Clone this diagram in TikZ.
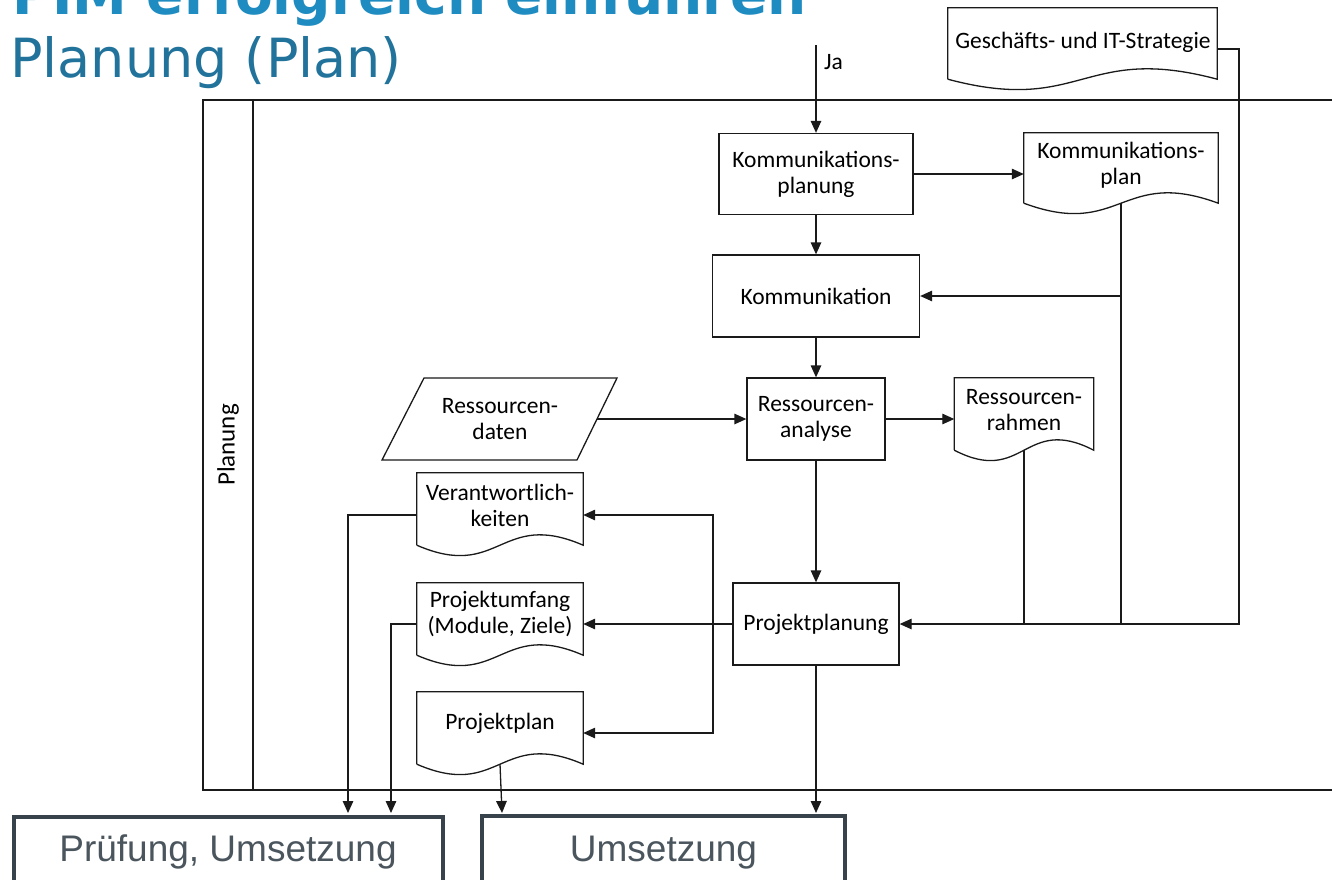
\documentclass[tikz,border=0pt]{standalone}
\usepackage{fontspec}
\setmainfont{Carlito}
\newfontfamily\titlefont{DejaVu Sans}
\newfontfamily\boxfont{Liberation Sans}
\usetikzlibrary{arrows.meta,calc}
\definecolor{titleblue}{HTML}{1E8CC0}
\definecolor{subblue}{HTML}{22739C}
\definecolor{boxgray}{HTML}{37424A}
\definecolor{boxtext}{HTML}{4A555D}
\definecolor{ln}{HTML}{1A1A1A}
\newcommand\docwave[1]{\draw[docline] (#1.south west) -- (#1.north west) -- (#1.north east) -- (#1.south east) .. controls ($(#1.south)+(0,-36)$) and ($(#1.south)+(0,36)$) .. (#1.south west);}
\begin{document}
\begin{tikzpicture}[x=1pt,y=-1pt,
  every node/.style={font=\fontsize{23.5}{26}\selectfont},
  proc/.style={draw=ln, line width=1.3pt, inner sep=0pt, align=center},
  docnode/.style={inner sep=0pt},
  docline/.style={draw=ln, line width=1.3pt},
  txt/.style={align=center, inner sep=0pt},
  conn/.style={draw=ln, line width=1.3pt},
  arr/.style={conn, -{Triangle[length=12pt,width=10.5pt]}},
  bigbox/.style={draw=boxgray, line width=4.5pt, inner sep=0pt, outer sep=0pt},
  bigtxt/.style={font=\boxfont\fontsize{37}{40}\selectfont, text=boxtext, inner sep=0pt},
]
\useasboundingbox (0,0) rectangle (1332,879);
\clip (0,0) rectangle (1332,879);
\fill[white] (0,0) rectangle (1332,879);

% titles
\node[anchor=base west, inner sep=0pt, text=titleblue, font=\titlefont\bfseries\fontsize{55}{60}\selectfont] (title) at (12,14) {PIM erfolgreich einführen};
\node[anchor=base west, inner sep=0pt, text=subblue, font=\titlefont\fontsize{54}{60}\selectfont] (subtitle) at (10,77) {Planung (Plan)};

% pool / lane
\draw[conn] (1332,100) -- (203,100) -- (203,790) -- (1332,790);
\draw[conn] (253,100) -- (253,790);
\node[txt, rotate=90, font=\fontsize{25}{28}\selectfont] (lane) at (228,445) {Planung};

% processes
\node[proc, minimum width=194pt, minimum height=81pt] (kpl) at (816,174) {Kommunikations-\\planung};
\node[proc, minimum width=207pt, minimum height=82pt] (kom) at (816,296) {Kommunikation};
\node[proc, minimum width=138pt, minimum height=82pt] (ran) at (816,419) {Ressourcen-\\analyse};
\node[proc, minimum width=166pt, minimum height=82pt] (ppl) at (816,624) {Projektplanung};

% data (parallelogram)
\draw[docline] (424,378) -- (617,378) -- (577,460) -- (382,460) -- cycle;
\node[txt] (rdat) at (500,419) {Ressourcen-\\daten};
\coordinate (rdatr) at (597,419);

% documents
\node[docnode, minimum width=269pt, minimum height=71pt] (gst) at (1082.5,43.5) {};
\node[docnode, minimum width=194pt, minimum height=70pt] (kpn) at (1121,168) {};
\node[docnode, minimum width=139pt, minimum height=72pt] (rrn) at (1024,414) {};
\node[docnode, minimum width=166pt, minimum height=72pt] (ver) at (500,509) {};
\node[docnode, minimum width=166pt, minimum height=72pt] (pum) at (500,619) {};
\node[docnode, minimum width=166pt, minimum height=72pt] (ppn) at (500,728) {};
\docwave{gst}
\docwave{kpn}
\docwave{rrn}
\docwave{ver}
\docwave{pum}
\docwave{ppn}
\node[txt] (gstt) at (1083,42) {Geschäfts- und IT-Strategie};
\node[txt] (kpnt) at (1121,165) {Kommunikations-\\plan};
\node[txt] (rrnt) at (1024,410) {Ressourcen-\\rahmen};
\node[txt] (vert) at (500,505) {Verantwortlich-\\keiten};
\node[txt] (pumt) at (500,614) {Projektumfang\\(Module, Ziele)};
\node[txt] (ppnt) at (500,723) {Projektplan};

% target boxes
\node[bigbox, minimum width=429pt, minimum height=120pt, anchor=north] (pru) at (228.5,817) {};
\node[bigtxt, anchor=base] (prut) at (228,861) {Prüfung, Umsetzung};
\node[bigbox, minimum width=363pt, minimum height=120pt, anchor=north] (ums) at (663.5,816) {};
\node[bigtxt, anchor=base] (umst) at (663.5,861) {Umsetzung};

% helper coordinates
\coordinate (ja) at (816,45);
\coordinate (rt) at (1239,624);
\coordinate (jn) at (713,624);
\coordinate (pt1) at (348,813);
\coordinate (pt2) at (391,813);
\coordinate (um1) at (502,813);
\coordinate (um2) at (816,813);

% connectors
\draw[arr] (ja) -- (kpl.north);
\node[txt, anchor=west] (jal) at (824,62) {Ja};
\draw[arr] (kpl.east) -- (kpl.east -| kpn.west);
\draw[arr] (kpl.south) -- (kpl.south |- kom.north);
\draw[arr] (kpn.south) |- (kom.east);
\draw[conn] (kpn.south) -- (kpn.south |- ppl.east);
\draw[arr] ([yshift=-5.5pt]gst.east) -| (rt) -- (ppl.east);
\draw[arr] (kom.south) -- (kom.south |- ran.north);
\draw[arr] (rdatr) -- (rdatr -| ran.west);
\draw[arr] (ran.east) -- (ran.east -| rrn.west);
\draw[conn] (rrn.south) -- (rrn.south |- ppl.east);
\draw[arr] (ran.south) -- (ran.south |- ppl.north);
\draw[arr] (ppl.west) -- (ppl.west -| pum.east);
\draw[arr] (jn) |- ([yshift=-6pt]ver.east);
\draw[arr] (jn) |- ([yshift=-5pt]ppn.east);
\draw[arr] ([yshift=-6pt]ver.west) -| (pt1);
\draw[arr] ([yshift=-5pt]pum.west) -| (pt2);
\draw[arr] (ppn.south) -- (um1);
\draw[arr] (ppl.south) -- (um2);
\end{tikzpicture}
\end{document}
